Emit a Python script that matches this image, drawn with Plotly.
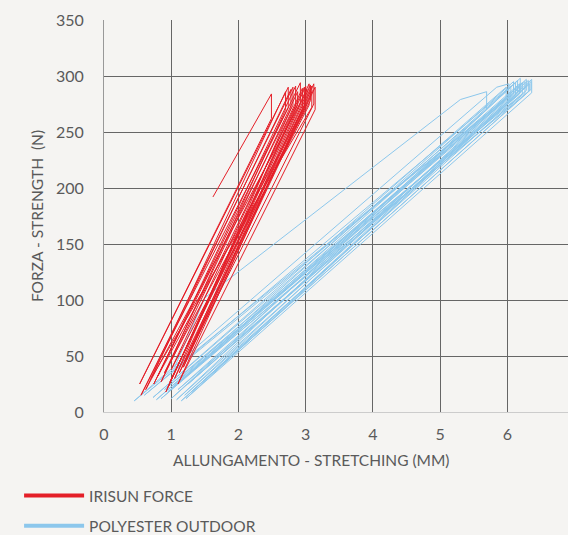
import plotly.graph_objects as go

# Load–extension cycles: each cycle runs from a low start point up to a peak,
# a short force drop at constant extension, then back down to the next start.
irisun_x = [1.62, 2.49, 2.49,
            0.53, 2.74, 2.74,
            0.55, 2.81, 2.81,
            0.74, 2.92, 2.92,
            0.62, 2.70, 2.70,
            0.85, 2.98, 2.98,
            0.80, 2.85, 2.85,
            0.95, 3.05, 3.05,
            1.00, 2.95, 2.95,
            0.98, 3.09, 3.09,
            0.70, 2.78, 2.78,
            1.05, 3.14, 3.14,
            1.10, 3.12, 3.12,
            1.12, 3.02, 3.02,
            1.18, 3.07, 3.07,
            0.90, 2.88, 2.88,
            0.92, 3.00, 3.00,
            1.20, 3.10]
irisun_y = [192, 284, 262,
            25, 290, 272,
            15, 290, 274,
            25, 294, 276,
            20, 286, 270,
            27, 290, 272,
            32, 291, 273,
            22, 293, 274,
            38, 289, 271,
            27, 291, 272,
            30, 288, 271,
            30, 290, 270,
            25, 293, 275,
            35, 288, 275,
            40, 292, 278,
            35, 286, 274,
            18, 291, 276,
            45, 287]

polyester_x = [1.05, 1.50, 5.30, 5.69, 5.69,
               0.73, 5.98, 5.98,
               0.45, 5.84, 6.02, 6.02,
               0.60, 6.05, 6.05,
               0.78, 6.09, 6.09,
               0.95, 6.15, 6.15,
               1.00, 6.12, 6.12,
               1.08, 6.19, 6.19,
               0.85, 6.22, 6.22,
               1.20, 6.26, 6.26,
               1.10, 6.28, 6.28,
               0.90, 6.31, 6.31,
               1.30, 6.36, 6.36,
               1.22, 6.35, 6.35,
               1.15, 6.33, 6.33,
               1.02, 6.18, 6.18,
               1.25, 6.22]
polyester_y = [40, 102, 279, 286, 270,
               13, 290, 280,
               10, 290, 293, 282,
               15, 291, 283,
               11, 295, 284,
               18, 296, 285,
               12, 294, 283,
               11, 298, 285,
               12, 294, 284,
               15, 295, 285,
               20, 297, 287,
               20, 296, 286,
               18, 297, 285,
               12, 295, 288,
               10, 293, 287,
               22, 293, 284,
               25, 290]

x_ticks = [0, 1, 2, 3, 4, 5, 6]
y_ticks = [0, 50, 100, 150, 200, 250, 300, 350]

RED = "#e41f28"
BLUE = "#8cc7ec"
BG = "#f5f4f2"
TXT = "#5a5a5a"
FONT = "Lato"

fig = go.Figure()

fig.add_trace(go.Scatter(x=polyester_x, y=polyester_y, mode="lines",
                         line=dict(color=BLUE, width=1), showlegend=False,
                         hoverinfo="skip"))
fig.add_trace(go.Scatter(x=irisun_x, y=irisun_y, mode="lines",
                         line=dict(color=RED, width=1), showlegend=False,
                         hoverinfo="skip"))

# Legend entries with thick sample lines
fig.add_trace(go.Scatter(x=[None], y=[None], mode="lines", name="IRISUN FORCE",
                         line=dict(color=RED, width=4), legend="legend"))
fig.add_trace(go.Scatter(x=[None], y=[None], mode="lines", name="POLYESTER OUTDOOR",
                         line=dict(color=BLUE, width=4), legend="legend2"))

legend_common = dict(xanchor="left", yanchor="middle", bgcolor="rgba(0,0,0,0)",
                     font=dict(family=FONT, size=15.5, color=TXT),
                     itemwidth=60, borderwidth=0)

fig.update_layout(
    width=568, height=535,
    margin=dict(l=104, r=0, t=20, b=123, autoexpand=False),
    paper_bgcolor=BG, plot_bgcolor=BG,
    font=dict(family=FONT, size=16, color=TXT),
    xaxis=dict(range=[0, 6.9], tickvals=x_ticks, showgrid=True,
               gridcolor="#666666", gridwidth=1, zeroline=False,
               showline=True, linecolor="#cccccc", linewidth=1,
               ticks="", ticklabelstandoff=8),
    yaxis=dict(range=[0, 350], tickvals=y_ticks, showgrid=True,
               gridcolor="#666666", gridwidth=1, zeroline=False,
               showline=True, linecolor="#999999", linewidth=1,
               ticks="", ticklabelstandoff=16,
               title=dict(text="FORZA - STRENGTH  (N)", standoff=8,
                          font=dict(family=FONT, size=15.5, color=TXT))),
    legend=dict(x=-0.183, y=-0.214, **legend_common),
    legend2=dict(x=-0.183, y=-0.291, **legend_common),
    annotations=[dict(text="ALLUNGAMENTO - STRETCHING (MM)",
                      xref="paper", yref="paper", x=0.448, y=-0.1224,
                      xanchor="center", yanchor="middle", showarrow=False,
                      font=dict(family=FONT, size=15.5, color=TXT))],
)

fig.write_html("out.html")
